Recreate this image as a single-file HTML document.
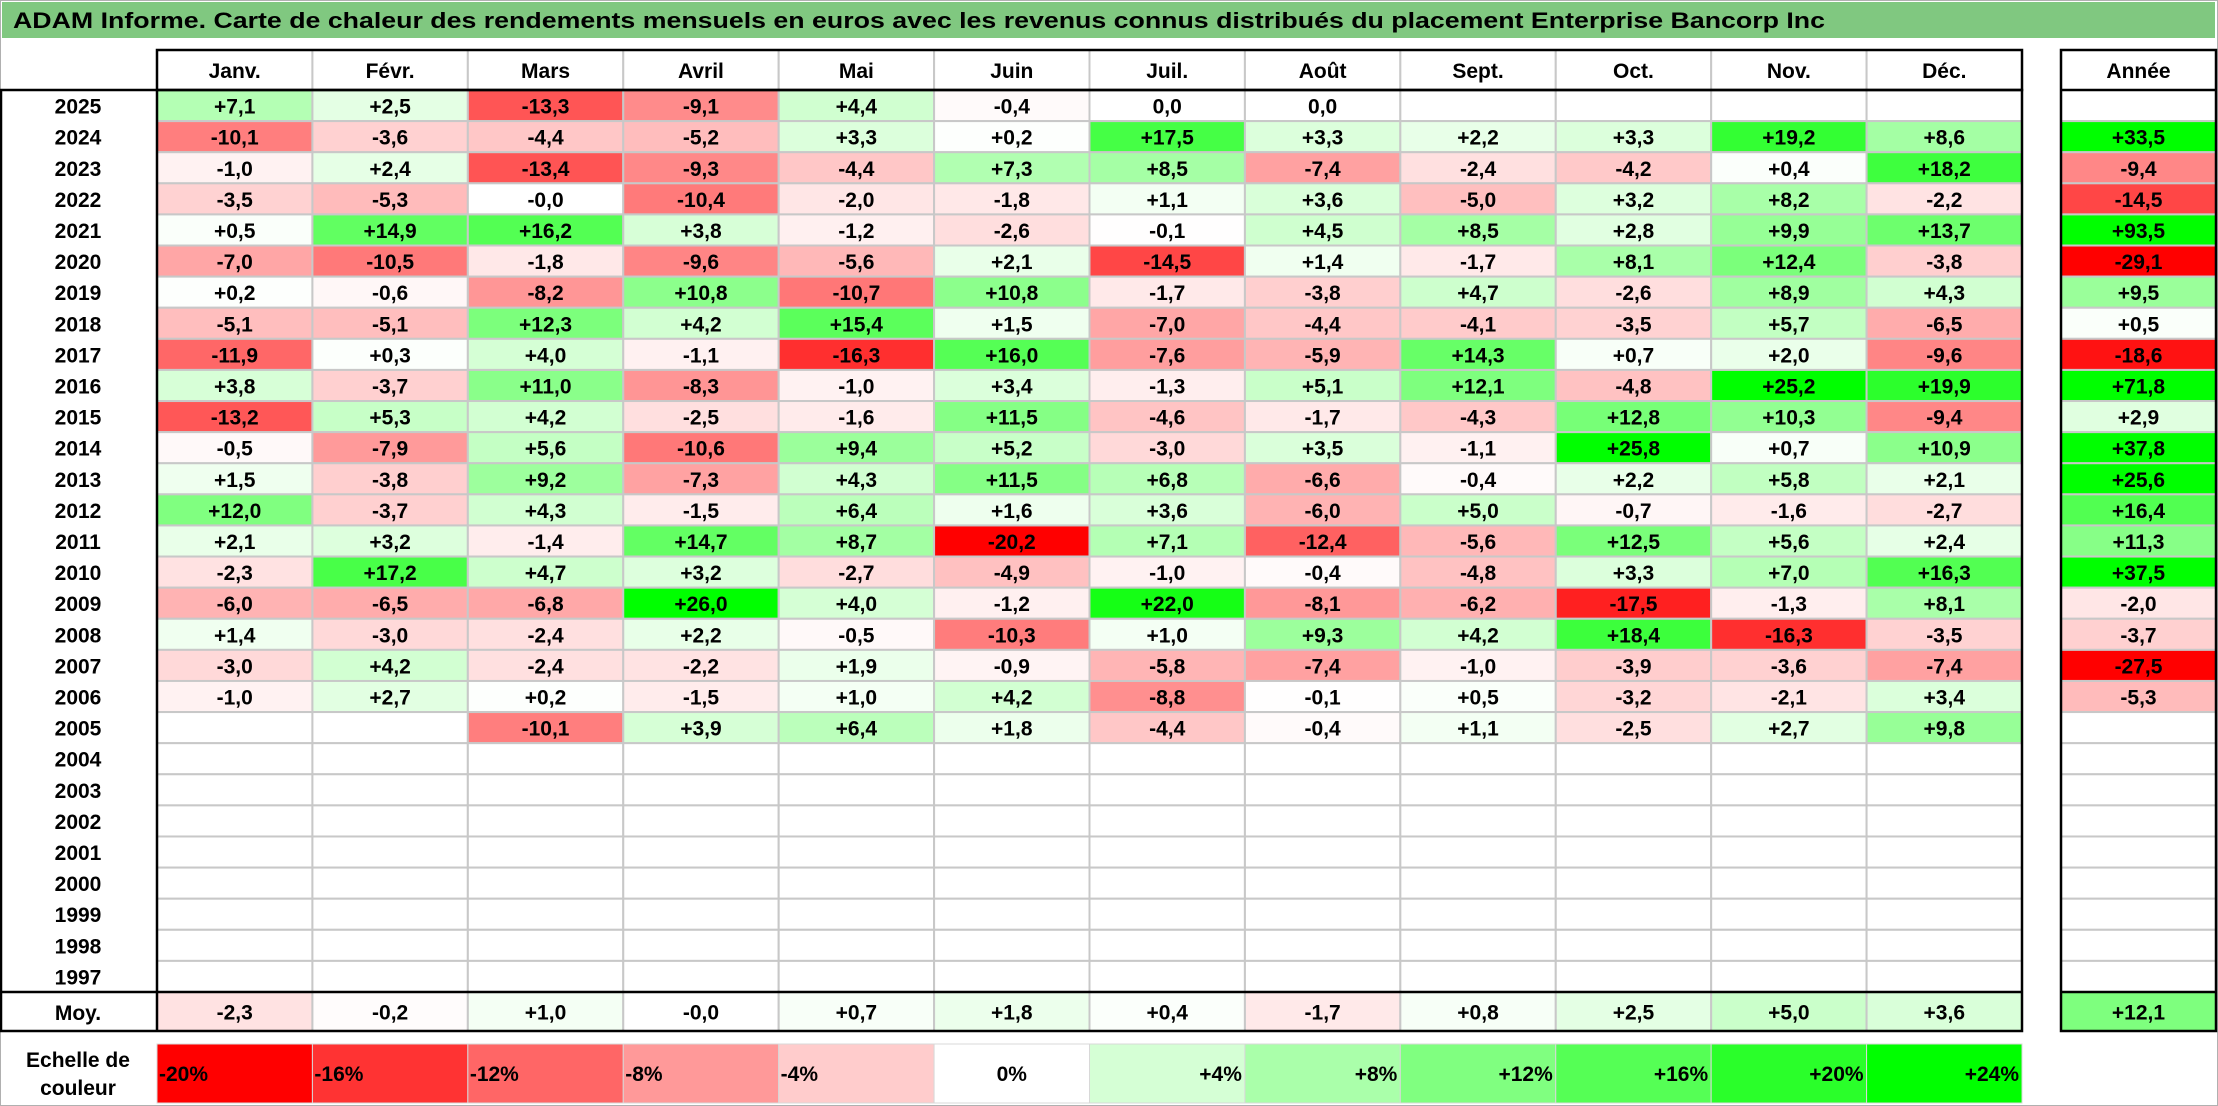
<!DOCTYPE html>
<html><head><meta charset="utf-8"><style>
html,body{margin:0;padding:0;background:#fff;}
svg{display:block;font-family:"Liberation Sans",sans-serif;font-weight:bold;}
</style></head><body>
<svg id="chart" width="2218" height="1106" viewBox="0 0 2218 1106" xmlns="http://www.w3.org/2000/svg">
<rect x="0.5" y="0.5" width="2217" height="1105" fill="#fff" stroke="#b0b0b0"/>
<rect x="2" y="2" width="2213" height="36" fill="#80c880"/>
<text x="13" y="28" font-size="22" fill="#000" textLength="1812" lengthAdjust="spacingAndGlyphs">ADAM Informe. Carte de chaleur des rendements mensuels en euros avec les revenus connus distribués du placement Enterprise Bancorp Inc</text>
<g id="cells"></g>
<g id="lines"></g>
</svg>
<script>
const months = ["Janv.","Févr.","Mars","Avril","Mai","Juin","Juil.","Août","Sept.","Oct.","Nov.","Déc."];
const years = [2025,2024,2023,2022,2021,2020,2019,2018,2017,2016,2015,2014,2013,2012,2011,2010,2009,2008,2007,2006,2005,2004,2003,2002,2001,2000,1999,1998,1997];
const N = null;
const r2025 = [7.1,2.5,-13.3,-9.1,4.4,-0.4,0.0,0.0,N,N,N,N];
const r2024 = [-10.1,-3.6,-4.4,-5.2,3.3,0.2,17.5,3.3,2.2,3.3,19.2,8.6];
const r2023 = [-1.0,2.4,-13.4,-9.3,-4.4,7.3,8.5,-7.4,-2.4,-4.2,0.4,18.2];
const r2022 = [-3.5,-5.3,-0.0,-10.4,-2.0,-1.8,1.1,3.6,-5.0,3.2,8.2,-2.2];
const r2021 = [0.5,14.9,16.2,3.8,-1.2,-2.6,-0.1,4.5,8.5,2.8,9.9,13.7];
const r2020 = [-7.0,-10.5,-1.8,-9.6,-5.6,2.1,-14.5,1.4,-1.7,8.1,12.4,-3.8];
const r2019 = [0.2,-0.6,-8.2,10.8,-10.7,10.8,-1.7,-3.8,4.7,-2.6,8.9,4.3];
const r2018 = [-5.1,-5.1,12.3,4.2,15.4,1.5,-7.0,-4.4,-4.1,-3.5,5.7,-6.5];
const r2017 = [-11.9,0.3,4.0,-1.1,-16.3,16.0,-7.6,-5.9,14.3,0.7,2.0,-9.6];
const r2016 = [3.8,-3.7,11.0,-8.3,-1.0,3.4,-1.3,5.1,12.1,-4.8,25.2,19.9];
const r2015 = [-13.2,5.3,4.2,-2.5,-1.6,11.5,-4.6,-1.7,-4.3,12.8,10.3,-9.4];
const r2014 = [-0.5,-7.9,5.6,-10.6,9.4,5.2,-3.0,3.5,-1.1,25.8,0.7,10.9];
const r2013 = [1.5,-3.8,9.2,-7.3,4.3,11.5,6.8,-6.6,-0.4,2.2,5.8,2.1];
const r2012 = [12.0,-3.7,4.3,-1.5,6.4,1.6,3.6,-6.0,5.0,-0.7,-1.6,-2.7];
const r2011 = [2.1,3.2,-1.4,14.7,8.7,-20.2,7.1,-12.4,-5.6,12.5,5.6,2.4];
const r2010 = [-2.3,17.2,4.7,3.2,-2.7,-4.9,-1.0,-0.4,-4.8,3.3,7.0,16.3];
const r2009 = [-6.0,-6.5,-6.8,26.0,4.0,-1.2,22.0,-8.1,-6.2,-17.5,-1.3,8.1];
const r2008 = [1.4,-3.0,-2.4,2.2,-0.5,-10.3,1.0,9.3,4.2,18.4,-16.3,-3.5];
const r2007 = [-3.0,4.2,-2.4,-2.2,1.9,-0.9,-5.8,-7.4,-1.0,-3.9,-3.6,-7.4];
const r2006 = [-1.0,2.7,0.2,-1.5,1.0,4.2,-8.8,-0.1,0.5,-3.2,-2.1,3.4];
const r2005 = [N,N,-10.1,3.9,6.4,1.8,-4.4,-0.4,1.1,-2.5,2.7,9.8];
const rEmpty = [N,N,N,N,N,N,N,N,N,N,N,N];
const monthly = [r2025,r2024,r2023,r2022,r2021,r2020,r2019,r2018,r2017,r2016,r2015,r2014,r2013,r2012,r2011,r2010,r2009,r2008,r2007,r2006,r2005,rEmpty,rEmpty,rEmpty,rEmpty,rEmpty,rEmpty,rEmpty,rEmpty];
const yearly = [N,33.5,-9.4,-14.5,93.5,-29.1,9.5,0.5,-18.6,71.8,2.9,37.8,25.6,16.4,11.3,37.5,-2.0,-3.7,-27.5,-5.3,N,N,N,N,N,N,N,N,N];
const averages = [-2.3,-0.2,1.0,-0.0,0.7,1.8,0.4,-1.7,0.8,2.5,5.0,3.6];
const averageYear = 12.1;
const scaleValues = [-20,-16,-12,-8,-4,0,4,8,12,16,20,24];

const NS = "http://www.w3.org/2000/svg";
const X0 = 157, CW = (2022-157)/12, Y0 = 90, RH = (992-90)/29;
const YX0 = 2061, YW = 155;
const colX = j => X0 + j*CW;
const rowY = i => Y0 + i*RH;
function color(v){
  if (v === null) return "#ffffff";
  let t;
  if (v < 0){ t = Math.min(-v/20,1); const c = Math.round(255*(1-t)); return `rgb(255,${c},${c})`; }
  t = Math.min(v/24,1); const c = Math.round(255*(1-t)); return `rgb(${c},255,${c})`;
}
function fmt(v){
  const s = Math.abs(v).toFixed(1).replace('.',',');
  if (v > 0) return '+'+s;
  if (v < 0 || Object.is(v,-0)) return '-'+s;
  return s;
}
const cells = document.getElementById('cells');
const lines = document.getElementById('lines');
function mk(tag, attrs, parent){
  const e = document.createElementNS(NS, tag);
  for (const k in attrs) e.setAttribute(k, attrs[k]);
  parent.appendChild(e); return e;
}
function txt(x,y,s,anchor,parent){
  const t = mk('text',{x:x,y:y,'font-size':21,'text-anchor':anchor||'middle',fill:'#000'},parent);
  t.textContent = s; return t;
}
function cell(x,y,w,h,v,name,parent){
  const r = mk('rect',{x:x,y:y,width:w,height:h,fill:color(v),stroke:'#c8c8c8','stroke-width':2},parent);
  
  
  if (v !== null){
    const t = txt(x+w/2, y+h/2+8, fmt(v), 'middle', parent);
    
    
  }
}
// header
months.forEach((m,j)=>{
  mk('rect',{x:colX(j),y:50,width:CW,height:40,fill:'#fff',stroke:'#c8c8c8','stroke-width':2},cells);
  const t = txt(colX(j)+CW/2, 78, m, 'middle', cells);
  
  
});
mk('rect',{x:YX0,y:50,width:YW,height:40,fill:'#fff'},cells);
const yh = txt(YX0+YW/2, 78, 'Année', 'middle', cells);


// rows
years.forEach((yr,i)=>{
  const y = rowY(i);
  const lt = txt(78, y+RH/2+8, String(yr), 'middle', cells);
  
  
  monthly[i].forEach((v,j)=> cell(colX(j), y, CW, RH, v, 'heat-cell', cells));
  cell(YX0, y, YW, RH, yearly[i], 'annual-cell', cells);
});
// average row
const mt = txt(78, 1020, 'Moy.', 'middle', cells);


averages.forEach((v,j)=> cell(colX(j), 992, CW, 39, v, 'average-cell', cells));
cell(YX0, 992, YW, 39, averageYear, 'average-annual-cell', cells);
// scale
const s1 = txt(78, 1067, 'Echelle de', 'middle', cells);


txt(78, 1095, 'couleur', 'middle', cells);
scaleValues.forEach((v,j)=>{
  const x = colX(j);
  const r = mk('rect',{x:x,y:1044,width:CW,height:59,fill:color(v),stroke:'#d8d8d8','stroke-width':1},cells);
  
  
  const label = (v>0?'+':'')+v+'%';
  let t;
  if (v<0) t = txt(x+2, 1081, label, 'start', cells);
  else if (v===0) t = txt(x+CW/2, 1081, label, 'middle', cells);
  else t = txt(x+CW-3, 1081, label, 'end', cells);
  
  
});
// black borders
const B = {stroke:'#000','stroke-width':2.5,fill:'none'};
mk('rect',Object.assign({x:X0,y:50,width:2022-X0,height:40},B),lines);
mk('rect',Object.assign({x:1,y:90,width:2021,height:941},B),lines);
mk('line',Object.assign({x1:1,y1:992,x2:2022,y2:992},B),lines);
mk('line',Object.assign({x1:X0,y1:90,x2:X0,y2:1031},B),lines);
mk('rect',Object.assign({x:YX0,y:50,width:YW,height:981},B),lines);
mk('line',Object.assign({x1:YX0,y1:90,x2:YX0+YW,y2:90},B),lines);
mk('line',Object.assign({x1:YX0,y1:992,x2:YX0+YW,y2:992},B),lines);
</script>
</body></html>
